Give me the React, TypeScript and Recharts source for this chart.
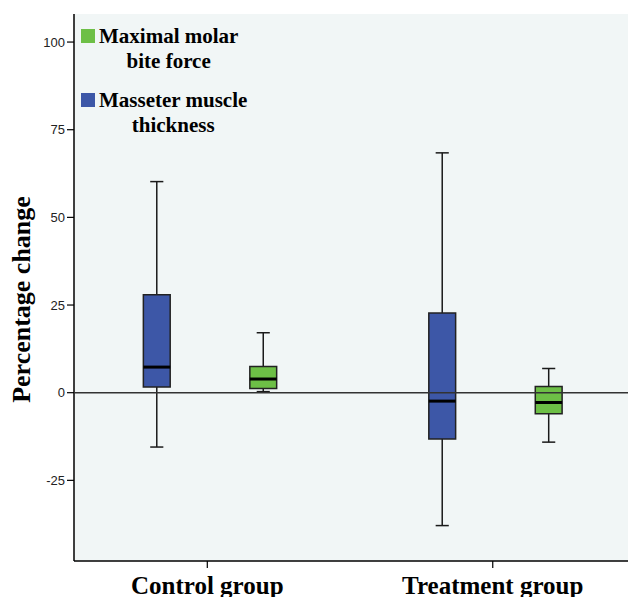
import React from 'react';
import {
  ComposedChart,
  XAxis,
  YAxis,
  CartesianGrid,
  ReferenceArea,
  ReferenceLine,
  Legend,
} from 'recharts';

// ---- data ----
const groups = ['Control group', 'Treatment group'];
const groupPositions = [1, 2];
const legendLines = [
  ['Maximal molar', 'bite force'],
  ['Masseter muscle', 'thickness'],
];

// Masseter muscle thickness (blue)
const masseterMin = [-15.5, -37.9];
const masseterQ1 = [1.6, -13.2];
const masseterMedian = [7.3, -2.4];
const masseterQ3 = [27.9, 22.7];
const masseterMax = [60.2, 68.4];

// Maximal molar bite force (green)
const biteMin = [0.3, -14.1];
const biteQ1 = [1.2, -6.0];
const biteMedian = [3.9, -2.8];
const biteQ3 = [7.5, 1.8];
const biteMax = [17.1, 6.9];

const yTicks = [-25, 0, 25, 50, 75, 100];

// ---- styling ----
const BLUE = '#3d57a7';
const GREEN = '#6dbf46';
const BG = '#f1f6f6';
const BOX_HALF = 0.047;
const CAP_HALF = 0.023;
const BLUE_OFFSET = -0.177;
const GREEN_OFFSET = 0.196;

function boxElements(
  key: string,
  x: number,
  min: number,
  q1: number,
  med: number,
  q3: number,
  max: number,
  color: string
) {
  const ws = { stroke: '#1a1a1a', strokeWidth: 1.5 };
  return [
    <ReferenceLine key={key + 'wu'} segment={[{ x, y: q3 }, { x, y: max }]} {...ws} zIndex={600} />,
    <ReferenceLine key={key + 'wl'} segment={[{ x, y: min }, { x, y: q1 }]} {...ws} zIndex={600} />,
    <ReferenceLine key={key + 'cu'} segment={[{ x: x - CAP_HALF, y: max }, { x: x + CAP_HALF, y: max }]} {...ws} zIndex={600} />,
    <ReferenceLine key={key + 'cl'} segment={[{ x: x - CAP_HALF, y: min }, { x: x + CAP_HALF, y: min }]} {...ws} zIndex={600} />,
    <ReferenceArea
      key={key + 'box'}
      x1={x - BOX_HALF}
      x2={x + BOX_HALF}
      y1={q1}
      y2={q3}
      fill={color}
      fillOpacity={1}
      stroke="#222"
      strokeWidth={1.5}
      zIndex={700}
    />,
    <ReferenceLine
      key={key + 'med'}
      segment={[{ x: x - BOX_HALF, y: med }, { x: x + BOX_HALF, y: med }]}
      stroke="#000"
      strokeWidth={3}
      zIndex={800}
    />,
  ];
}

const XTick = (props: any) => {
  const { x, y, payload } = props;
  const idx = groupPositions.indexOf(payload.value);
  return (
    <text
      x={x}
      y={y}
      dy={23.5}
      textAnchor="middle"
      fontFamily="'Liberation Serif', 'Times New Roman', serif"
      fontWeight="bold"
      fontSize={25}
      fill="#000"
    >
      {idx >= 0 ? groups[idx] : ''}
    </text>
  );
};

const YLabel = (props: any) => {
  const vb = props.viewBox || { x: 0, y: 14, width: 74, height: 547 };
  const cx = 30;
  const cy = vb.y + vb.height / 2 + 12;
  return (
    <text
      x={cx}
      y={cy}
      transform={`rotate(-90, ${cx}, ${cy})`}
      textAnchor="middle"
      fontFamily="'Liberation Serif', 'Times New Roman', serif"
      fontWeight="bold"
      fontSize={26}
      fill="#000"
    >
      Percentage change
    </text>
  );
};

const LegendContent = () => {
  const colors = [GREEN, BLUE];
  return (
    <div style={{ display: 'flex', flexDirection: 'column' }}>
      {legendLines.map((lines, i) => (
        <div
          key={i}
          style={{ display: 'flex', alignItems: 'flex-start', marginBottom: i === 0 ? 14 : 0 }}
        >
          <div style={{ width: 14, height: 14, background: colors[i], marginTop: 5.6, marginRight: 4 }} />
          <div
            style={{
              fontFamily: "'Liberation Serif', 'Times New Roman', serif",
              fontWeight: 'bold',
              fontSize: 21,
              lineHeight: '25px',
              textAlign: 'center',
              color: '#000',
              whiteSpace: 'nowrap',
            }}
          >
            {lines.map((l, j) => (
              <div key={j}>{l}</div>
            ))}
          </div>
        </div>
      ))}
    </div>
  );
};

export default function App() {
  const elements: React.ReactNode[] = [];
  groupPositions.forEach((p, i) => {
    elements.push(
      ...boxElements('m' + i, p + BLUE_OFFSET, masseterMin[i], masseterQ1[i], masseterMedian[i], masseterQ3[i], masseterMax[i], BLUE)
    );
    elements.push(
      ...boxElements('b' + i, p + GREEN_OFFSET, biteMin[i], biteQ1[i], biteMedian[i], biteQ3[i], biteMax[i], GREEN)
    );
  });

  return (
    <div style={{ position: 'absolute', left: 0, top: 0, width: 628, height: 597, overflow: 'hidden', background: '#fff' }}>
      <ComposedChart
        width={680}
        height={597}
        data={[]}
        margin={{ top: 14, right: 0, bottom: 0, left: 0 }}
      >
        <CartesianGrid horizontal={false} vertical={false} fill={BG} />
        <XAxis
          xAxisId={0}
          type="number"
          dataKey="x"
          domain={[0.533, 2.656]}
          allowDataOverflow
          ticks={groupPositions}
          tick={<XTick />}
          tickSize={7}
          tickMargin={2}
          height={36}
          axisLine={{ stroke: '#000', strokeWidth: 1.5 }}
          tickLine={{ stroke: '#000', strokeWidth: 1.2 }}
        />
        <XAxis
          xAxisId="top"
          orientation="top"
          type="number"
          domain={[0.533, 2.656]}
          allowDataOverflow
          tick={false}
          tickLine={false}
          height={0}
          axisLine={{ stroke: '#000', strokeWidth: 1.5 }}
        />
        <YAxis
          type="number"
          domain={[-48, 108]}
          allowDataOverflow
          ticks={yTicks}
          width={74}
          tickSize={7}
          tickMargin={2}
          tick={{ fontFamily: "'Liberation Sans', Arial, sans-serif", fontSize: 13, fill: '#222' }}
          axisLine={{ stroke: '#000', strokeWidth: 1.5 }}
          tickLine={{ stroke: '#000', strokeWidth: 1.2 }}
          label={<YLabel />}
        />
        {elements}
        <ReferenceLine y={0} stroke="#333" strokeWidth={1.5} zIndex={900} />
        <Legend
          layout="horizontal"
          verticalAlign="middle"
          align="center"
          content={<LegendContent />}
          wrapperStyle={{ top: 23.7, left: 81, width: 240, bottom: 'auto', right: 'auto' }}
        />
      </ComposedChart>
    </div>
  );
}
